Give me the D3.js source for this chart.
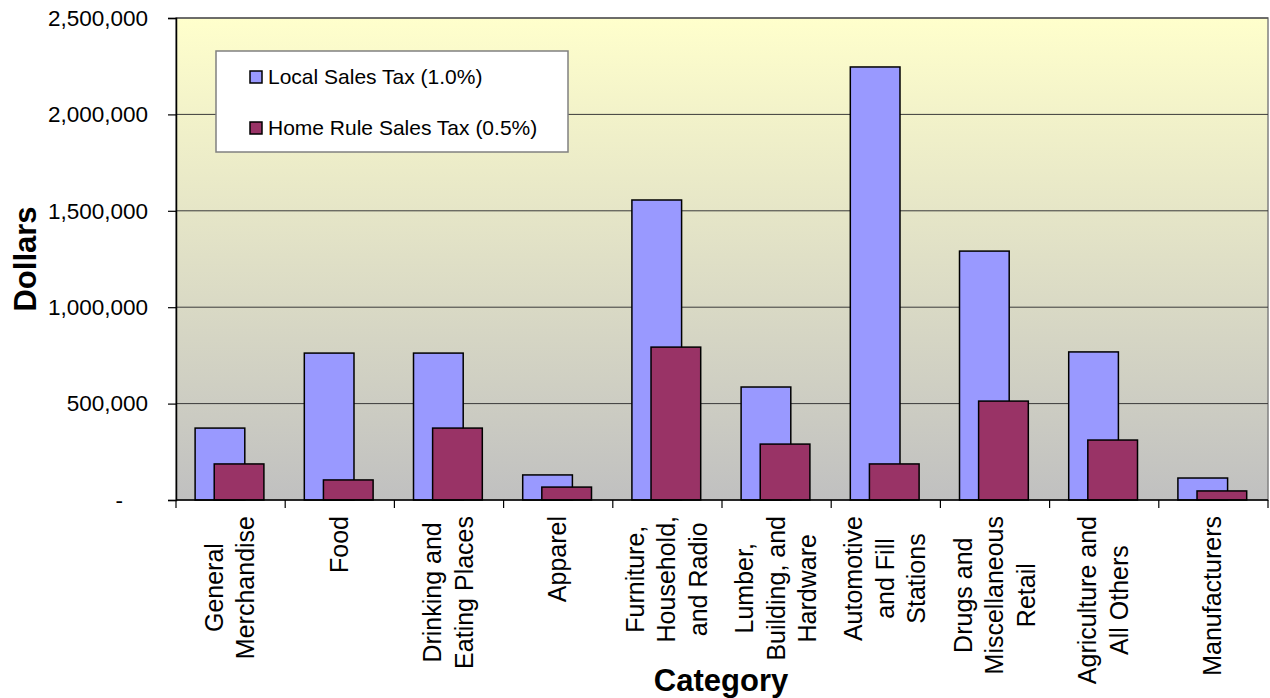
<!DOCTYPE html>
<html>
<head>
<meta charset="utf-8">
<script src="https://cdn.jsdelivr.net/npm/d3@7"></script>
<style>
  body { margin: 0; background: #fff; }
  text { font-family: "Liberation Sans", Arial, sans-serif; fill: #000; }
</style>
</head>
<body>
<svg id="chart" width="1270" height="698"></svg>
<script>
// Category labels, one array of lines per category
var categories = [
  ["General", "Merchandise"],
  ["Food"],
  ["Drinking and", "Eating Places"],
  ["Apparel"],
  ["Furniture,", "Household,", "and Radio"],
  ["Lumber,", "Building, and", "Hardware"],
  ["Automotive", "and Fill", "Stations"],
  ["Drugs and", "Miscellaneous", "Retail"],
  ["Agriculture and", "All Others"],
  ["Manufacturers"]
];
var series_names = ["Local Sales Tax (1.0%)", "Home Rule Sales Tax (0.5%)"];
var local_tax = [373000, 762000, 762000, 130000, 1556000, 586000, 2246000, 1291000, 768000, 114000];
var home_rule_tax = [187000, 104000, 373000, 67000, 793000, 290000, 187000, 513000, 311000, 47000];
var y_ticks = [0, 500000, 1000000, 1500000, 2000000, 2500000];

var colors = ["#9999FF", "#993366"];

function draw_chart()
{
  var svg = d3.select("#chart");

  // Plot area bounds
  var left = 176, right = 1268, top = 18, bottom = 500;

  var x = d3.scaleBand()
    .domain(d3.range(categories.length))
    .range([left, right]);

  var y = d3.scaleLinear()
    .domain([0, 2500000])
    .range([bottom, top]);

  // Background gradient
  var grad = svg.append("defs").append("linearGradient")
    .attr("id", "bg")
    .attr("x1", 0).attr("y1", 0).attr("x2", 0).attr("y2", 1);
  grad.append("stop").attr("offset", "0%").attr("stop-color", "#FFFFCC");
  grad.append("stop").attr("offset", "100%").attr("stop-color", "#C0C0C0");

  svg.append("rect")
    .attr("x", left).attr("y", top)
    .attr("width", right - left).attr("height", bottom - top)
    .attr("fill", "url(#bg)")
    .attr("stroke", "#808080")
    .attr("stroke-width", 1.5);

  // Gridlines
  svg.selectAll("line.grid")
    .data(y_ticks.slice(1))
    .enter()
    .append("line")
    .attr("class", "grid")
    .attr("x1", left).attr("x2", right)
    .attr("y1", function(d) { return y(d); })
    .attr("y2", function(d) { return y(d); })
    .attr("stroke", "#3a3a3a")
    .attr("stroke-width", 1);

  // Y axis
  var fmt = d3.format(",");
  var yAxis = d3.axisLeft(y)
    .tickValues(y_ticks)
    .tickSize(8)
    .tickPadding(20)
    .tickFormat(function(d) { return d === 0 ? "-" : fmt(d); });
  var gy = svg.append("g")
    .attr("transform", "translate(" + left + ",0)")
    .call(yAxis);
  gy.select(".domain").attr("stroke", "#000").attr("stroke-width", 1.5);
  gy.selectAll(".tick line").attr("stroke", "#000").attr("stroke-width", 1.2);
  gy.selectAll(".tick text")
    .style("font-size", "22.5px")
    .attr("fill", "#000")
    // accounting style zero: the dash sits left of the digit column
    .attr("dx", function(d) { return d === 0 ? -25 : 0; });

  // Bars: blue series behind, maroon overlapping in front
  var bw = x.bandwidth();
  var barW = bw * 0.455;
  var offsets = [bw * 0.175, bw * 0.35];
  [local_tax, home_rule_tax].forEach(function(values, s)
  {
    svg.selectAll("rect.s" + s)
      .data(values)
      .enter()
      .append("rect")
      .attr("class", "s" + s)
      .attr("x", function(d, i) { return x(i) + offsets[s]; })
      .attr("y", function(d) { return y(d); })
      .attr("width", barW)
      .attr("height", function(d) { return bottom - y(d); })
      .attr("fill", colors[s])
      .attr("stroke", "#000")
      .attr("stroke-width", 1.5);
  });

  // X axis line and ticks
  svg.append("line")
    .attr("x1", left).attr("x2", right)
    .attr("y1", bottom).attr("y2", bottom)
    .attr("stroke", "#000").attr("stroke-width", 1.5);
  svg.selectAll("line.xtick")
    .data(d3.range(categories.length + 1))
    .enter()
    .append("line")
    .attr("x1", function(d) { return left + d * bw; })
    .attr("x2", function(d) { return left + d * bw; })
    .attr("y1", bottom).attr("y2", bottom + 8)
    .attr("stroke", "#000").attr("stroke-width", 1.2);

  // Category labels, rotated, lines centred inside a block that starts under the axis
  var lineGap = 31.5;
  var blockTop = bottom + 16;
  categories.forEach(function(lines, i)
  {
    var g = svg.append("g");
    var texts = lines.map(function(t, j) {
      return g.append("text")
        .style("font-size", "25px")
        .attr("text-anchor", "middle")
        .text(t);
    });
    var maxLen = d3.max(texts, function(t) { return t.node().getComputedTextLength(); });
    var cy = blockTop + maxLen / 2;
    var cx = x(i) + bw / 2;
    texts.forEach(function(t, j) {
      var lx = cx + (j - (lines.length - 1) / 2) * lineGap + 8;
      t.attr("transform", "translate(" + lx + "," + cy + ") rotate(-90)");
    });
  });

  // Axis titles
  svg.append("text")
    .attr("transform", "translate(36," + ((top + bottom) / 2) + ") rotate(-90)")
    .attr("text-anchor", "middle")
    .style("font-size", "31px")
    .style("font-weight", "bold")
    .text("Dollars");

  svg.append("text")
    .attr("x", 721)
    .attr("y", 691)
    .attr("text-anchor", "middle")
    .style("font-size", "31px")
    .style("font-weight", "bold")
    .text("Category");

  // Legend
  var legend = svg.append("g").attr("transform", "translate(216,51)");
  legend.append("rect")
    .attr("width", 352).attr("height", 101)
    .attr("fill", "#fff")
    .attr("stroke", "#808080")
    .attr("stroke-width", 1.5);
  series_names.forEach(function(name, s)
  {
    var ly = 26 + s * 51;
    legend.append("rect")
      .attr("x", 34).attr("y", ly - 6)
      .attr("width", 12).attr("height", 12)
      .attr("fill", colors[s])
      .attr("stroke", "#000")
      .attr("stroke-width", 1.5);
    legend.append("text")
      .attr("x", 52).attr("y", ly)
      .attr("dy", "0.35em")
      .style("font-size", "21px")
      .text(name);
  });
}

draw_chart();
</script>
</body>
</html>
